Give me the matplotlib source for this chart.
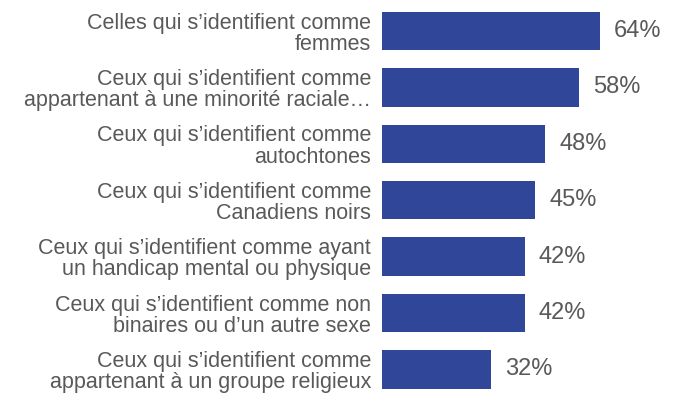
import matplotlib
matplotlib.use("Agg")
import matplotlib.pyplot as plt
from matplotlib.transforms import offset_copy

categories = [
    "Celles qui s\u2019identifient comme\nfemmes",
    "Ceux qui s\u2019identifient comme\nappartenant \u00e0 une minorit\u00e9 raciale\u2026",
    "Ceux qui s\u2019identifient comme\nautochtones",
    "Ceux qui s\u2019identifient comme\nCanadiens noirs",
    "Ceux qui s\u2019identifient comme ayant\nun handicap mental ou physique",
    "Ceux qui s\u2019identifient comme non\nbinaires ou d\u2019un autre sexe",
    "Ceux qui s\u2019identifient comme\nappartenant \u00e0 un groupe religieux",
]
values = [64, 58, 48, 45, 42, 42, 32]
value_labels = ["64%", "58%", "48%", "45%", "42%", "42%", "32%"]

plt.rcParams['font.family'] = ['Liberation Sans', 'DejaVu Sans']
W, H = 681, 403
fig = plt.figure(figsize=(W / 100, H / 100), dpi=100)
left = 382 / W
top_px, bot_px = 2.8, 397.7
ax = fig.add_axes([left, (H - bot_px) / H, 1 - left, (bot_px - top_px) / H])

ypos = list(range(len(categories)))
ax.barh(ypos, values, height=0.68, color='#2F4699')
ax.set_ylim(len(categories) - 0.5, -0.5)
ax.set_xlim(0, (W - 382) / 3.4)
ax.set_yticks(ypos)
ax.set_yticklabels(categories, fontsize=15.5, color='#595959', linespacing=1.02)
ax.tick_params(axis='y', length=0, pad=8)
ax.set_xticks([])
for s in ax.spines.values():
    s.set_visible(False)

trans = offset_copy(ax.transData, fig=fig, x=14, y=0, units='dots')
for y, v, lab in zip(ypos, values, value_labels):
    ax.text(v, y, lab, transform=trans, ha='left', va='center', fontsize=17, color='#595959')

fig.savefig('out.png', dpi=100)
